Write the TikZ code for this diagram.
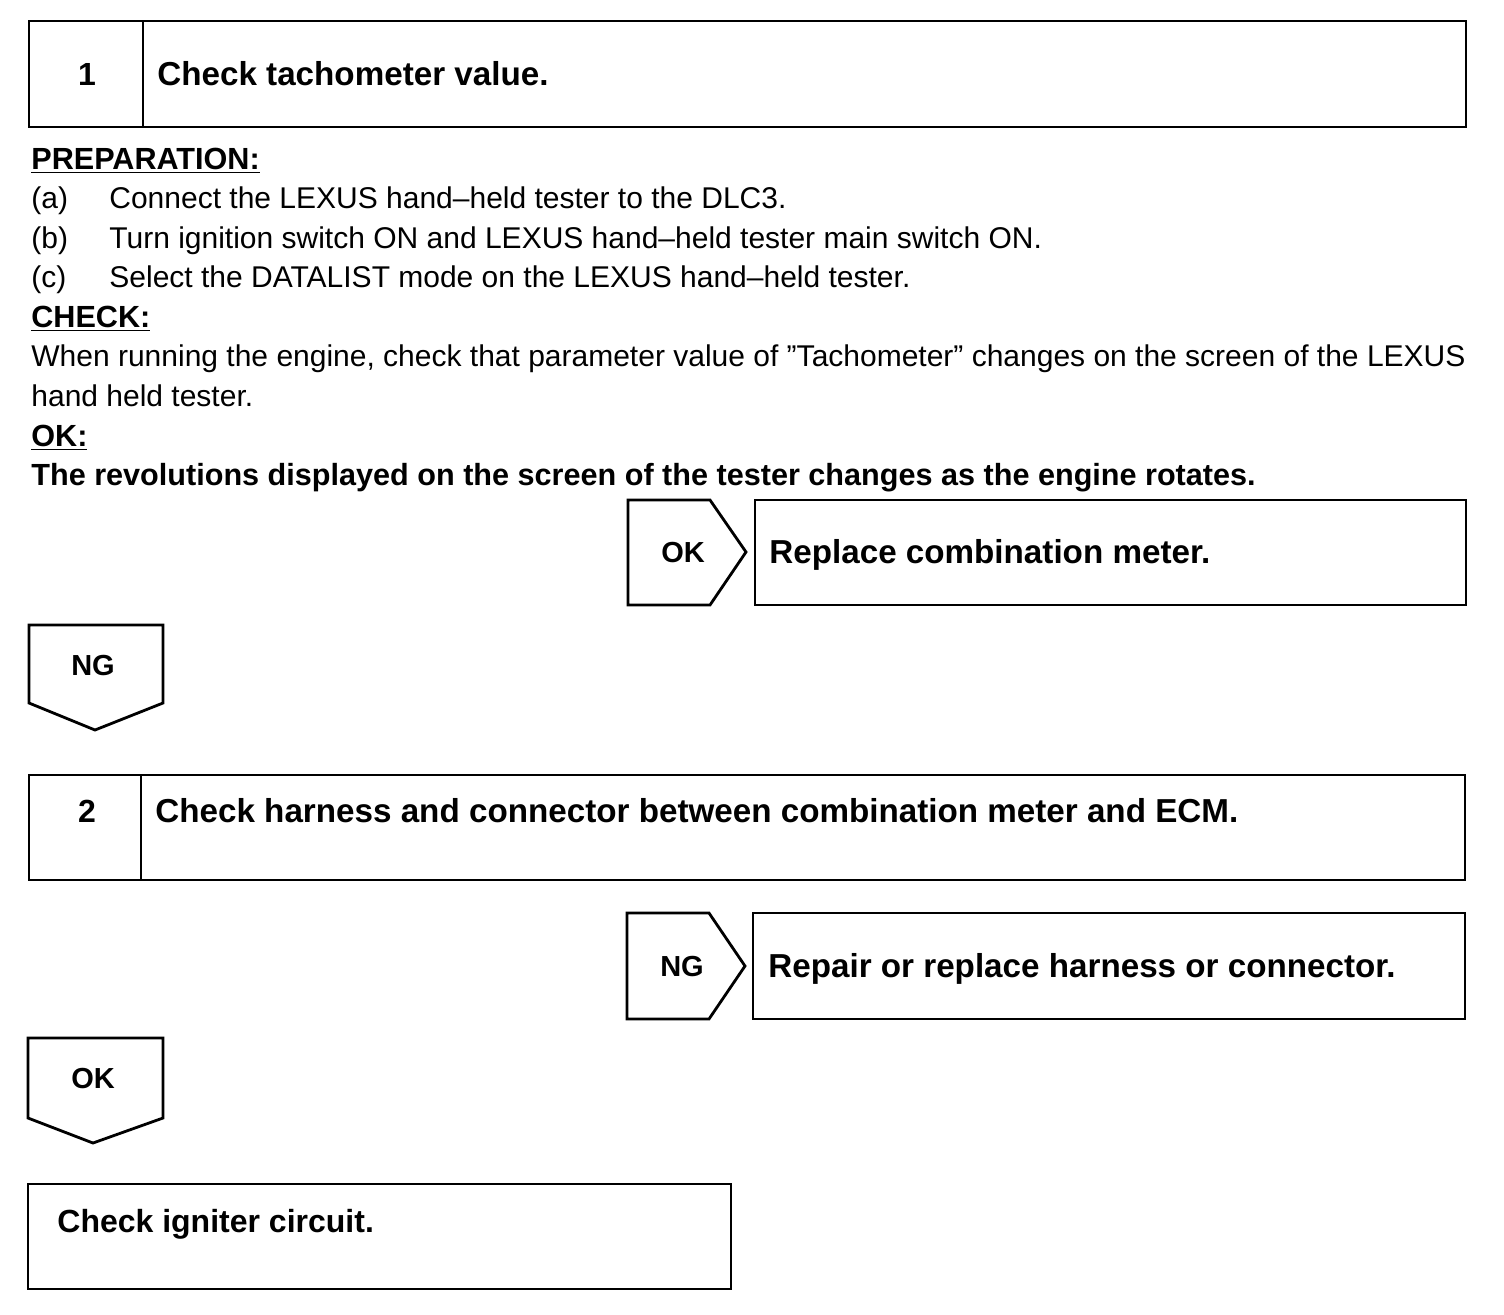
\documentclass[tikz,border=0pt]{standalone}
\usepackage{fontspec}
\setmainfont{Liberation Sans}
\usetikzlibrary{positioning}

\begin{document}
\begin{tikzpicture}[
    x=0.5pt, y=-0.5pt,
    stepbox/.style={
        draw=black,
        line width=1.4pt
    },
    tagshape/.style={
        draw=black,
        line width=1.4pt,
        line join=miter
    },
    steptext/.style={
        anchor=west,
        inner sep=0pt,
        text height=11.9pt,
        text depth=0pt,
        font=\fontsize{16.6}{19}\selectfont\bfseries
    },
    bodytext/.style={
        anchor=west,
        inner sep=0pt,
        text height=10.7pt,
        text depth=0pt,
        font=\fontsize{15}{18}\selectfont
    },
    headtext/.style={
        anchor=west,
        inner sep=0pt,
        text height=11pt,
        text depth=0pt,
        font=\fontsize{15.3}{18}\selectfont\bfseries
    },
    tagtext/.style={
        inner sep=0pt,
        text height=10.4pt,
        text depth=0pt,
        font=\fontsize{14.5}{17}\selectfont\bfseries
    },
    numtext/.style={
        inner sep=0pt,
        text height=11.5pt,
        text depth=0pt,
        font=\fontsize{16}{19}\selectfont\bfseries
    }
]
\useasboundingbox (0,0) rectangle (1504,1314);

% ==================== STEP 1 ====================
\draw[stepbox] (29,21) rectangle (1466,127);
\draw[stepbox] (143,21) -- (143,127);
\node[numtext] (numone) at (87,74) {1};
\node[steptext] (stepone) at (157,74) {Check tachometer value.};

% Preparation
\node[headtext] (prep) at (31,158) {\underline{PREPARATION:}};
\node[bodytext] (prepa) at (31,198) {(a)};
\node[bodytext] (prepatext) at (109,198) {Connect the LEXUS hand--held tester to the DLC3.};
\node[bodytext] (prepb) at (31,238) {(b)};
\node[bodytext] (prepbtext) at (109,238) {Turn ignition switch ON and LEXUS hand--held tester main switch ON.};
\node[bodytext] (prepc) at (31,277) {(c)};
\node[bodytext] (prepctext) at (109,277) {Select the DATALIST mode on the LEXUS hand--held tester.};

% Check
\node[headtext] (check) at (31,316) {\underline{CHECK:}};
\node[bodytext] (checkone) at (31,356) {When running the engine, check that parameter value of ”Tachometer” changes on the screen of the LEXUS};
\node[bodytext] (checktwo) at (31,396) {hand held tester.};

% OK
\node[headtext] (okhead) at (31,435) {\underline{OK:}};
\node[headtext] (oktext) at (31,474) {The revolutions displayed on the screen of the tester changes as the engine rotates.};

% ==================== RESULT OK ====================
\draw[tagshape] (628,500) -- (710,500) -- (746,552) -- (710,605) -- (628,605) -- cycle;
\node[tagtext] (okone) at (683,552) {OK};
\draw[stepbox] (755,500) rectangle (1466,605);
\node[steptext] (replace) at (769,552) {Replace combination meter.};

% ==================== RESULT NG ====================
\draw[tagshape] (29,625) -- (163,625) -- (163,703) -- (95,730) -- (29,703) -- cycle;
\node[tagtext] (ngone) at (93,665) {NG};

% ==================== STEP 2 ====================
\draw[stepbox] (29,775) rectangle (1465,880);
\draw[stepbox] (141,775) -- (141,880);
\node[numtext] (numtwo) at (87,811) {2};
\node[steptext] (steptwo) at (155,811) {Check harness and connector between combination meter and ECM.};

% NG
\draw[tagshape] (627,913) -- (709,913) -- (745,966) -- (709,1019) -- (627,1019) -- cycle;
\node[tagtext] (ngtwo) at (682,966) {NG};
\draw[stepbox] (753,913) rectangle (1465,1019);
\node[steptext] (repair) at (768,966) {Repair or replace harness or connector.};

% OK
\draw[tagshape] (28,1038) -- (163,1038) -- (163,1118) -- (93,1143) -- (28,1118) -- cycle;
\node[tagtext] (oktwo) at (93,1078) {OK};

% ==================== FINAL ====================
\draw[stepbox] (28,1184) rectangle (731,1289);
\node[steptext, text height=11.5pt, font=\fontsize{16}{19}\selectfont\bfseries] (igniter) at (57,1221) {Check igniter circuit.};

\end{tikzpicture}
\end{document}
